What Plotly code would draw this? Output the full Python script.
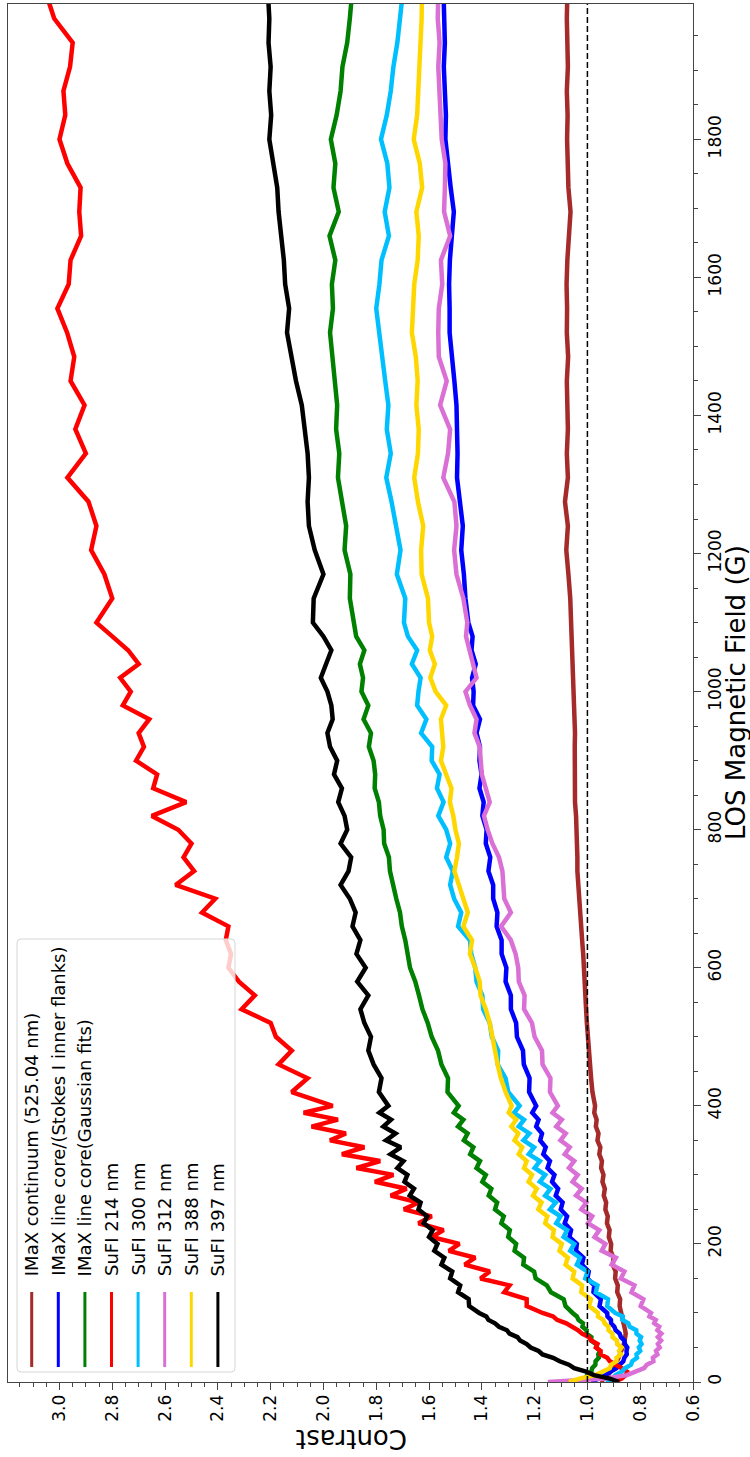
import plotly.graph_objects as go

# LOS magnetic field sampling (G)
field_G = [
    0, 5, 10, 15, 20, 25, 30, 35, 40, 45, 50, 55, 60, 65, 70, 75, 80, 85, 90, 95, 100,
    110, 120, 130, 140, 150, 160, 170, 180, 190, 200, 210, 220, 230, 240, 250, 260, 270, 280, 290, 300,
    310, 320, 330, 340, 350, 360, 370, 380, 390, 400,
    420, 440, 460, 480, 500, 520, 540, 560, 580, 600, 620, 640, 660, 680, 700, 720, 740, 760, 780, 800,
    820, 840, 860, 880, 900, 920, 940, 960, 980, 1000, 1020, 1040, 1060, 1080, 1100,
    1135, 1170, 1205, 1240, 1275, 1310, 1345, 1380, 1415, 1450, 1485, 1520, 1555, 1590, 1625, 1660,
    1695, 1730, 1765, 1800, 1835, 1870, 1905, 1940, 1975, 2010,
]

imax_continuum = [
    0.950, 0.935, 0.922, 0.912, 0.903, 0.896, 0.889, 0.882, 0.876, 0.870, 0.866, 0.862, 0.859, 0.856, 0.855, 0.857, 0.860, 0.862, 0.866, 0.868, 0.871,
    0.878, 0.876, 0.887, 0.885, 0.895, 0.893, 0.904, 0.901, 0.912, 0.910, 0.919, 0.916, 0.926, 0.923, 0.932, 0.929, 0.938, 0.934, 0.943, 0.939,
    0.948, 0.945, 0.955, 0.951, 0.962, 0.958, 0.968, 0.965, 0.974, 0.971,
    0.981, 0.986, 0.991, 0.996, 0.999, 1.002, 1.005, 1.007, 1.010, 1.013, 1.016, 1.020, 1.024, 1.027, 1.030, 1.034, 1.038, 1.038, 1.039, 1.040,
    1.043, 1.047, 1.048, 1.048, 1.047, 1.048, 1.047, 1.049, 1.050, 1.052, 1.055, 1.056, 1.055, 1.057, 1.059,
    1.065, 1.072, 1.080, 1.074, 1.085, 1.074, 1.078, 1.074, 1.077, 1.078, 1.073, 1.078, 1.077, 1.079, 1.076, 1.068,
    1.064, 1.072, 1.075, 1.077, 1.075, 1.078, 1.074, 1.077, 1.078, 1.076,
]

imax_core_flanks = [
    0.985, 0.955, 0.930, 0.912, 0.890, 0.878, 0.864, 0.860, 0.851, 0.852, 0.849, 0.858, 0.860, 0.873, 0.878, 0.893, 0.898, 0.910, 0.911, 0.924, 0.925,
    0.954, 0.949, 0.977, 0.974, 1.000, 0.995, 1.021, 1.015, 1.043, 1.040, 1.068, 1.062, 1.086, 1.077, 1.101, 1.094, 1.120, 1.111, 1.134, 1.125,
    1.151, 1.142, 1.167, 1.158, 1.179, 1.172, 1.194, 1.185, 1.209, 1.194,
    1.221, 1.219, 1.241, 1.244, 1.267, 1.270, 1.290, 1.290, 1.310, 1.307, 1.325, 1.325, 1.344, 1.341, 1.357, 1.357, 1.375, 1.368, 1.385, 1.382,
    1.398, 1.393, 1.409, 1.401, 1.409, 1.407, 1.420, 1.407, 1.433, 1.431, 1.437, 1.423, 1.439, 1.435, 1.451,
    1.462, 1.468, 1.478, 1.472, 1.484, 1.494, 1.492, 1.494, 1.496, 1.504, 1.512, 1.522, 1.522, 1.524, 1.521, 1.512,
    1.506, 1.518, 1.526, 1.538, 1.536, 1.540, 1.544, 1.540, 1.543, 1.545,
]

imax_core_gauss = [
    1.030, 1.010, 1.000, 0.985, 0.982, 0.970, 0.969, 0.957, 0.959, 0.953, 0.966, 0.967, 0.986, 0.985, 1.004, 1.003, 1.019, 1.017, 1.034, 1.040, 1.056,
    1.083, 1.090, 1.138, 1.154, 1.196, 1.202, 1.243, 1.240, 1.276, 1.270, 1.300, 1.294, 1.326, 1.317, 1.350, 1.342, 1.374, 1.364, 1.398, 1.385,
    1.420, 1.407, 1.444, 1.432, 1.468, 1.454, 1.490, 1.470, 1.506, 1.488,
    1.530, 1.528, 1.553, 1.566, 1.590, 1.605, 1.625, 1.638, 1.652, 1.672, 1.680, 1.690, 1.703, 1.710, 1.724, 1.735, 1.748, 1.752, 1.770, 1.772,
    1.785, 1.790, 1.806, 1.804, 1.810, 1.828, 1.820, 1.848, 1.830, 1.856, 1.850, 1.862, 1.845, 1.876, 1.885,
    1.900, 1.898, 1.920, 1.914, 1.930, 1.945, 1.940, 1.952, 1.948, 1.957, 1.962, 1.975, 1.964, 1.968, 1.955, 1.977,
    1.942, 1.962, 1.955, 1.972, 1.950, 1.935, 1.928, 1.910, 1.900, 1.892,
]

sufi_214 = [
    0.900, 0.870, 0.855, 0.850, 0.870, 0.890, 0.915, 0.925, 0.950, 0.950, 0.968, 0.962, 0.985, 0.995, 1.020, 1.035, 1.060, 1.080, 1.115, 1.130, 1.170,
    1.230, 1.230, 1.315, 1.295, 1.405, 1.370, 1.465, 1.425, 1.525, 1.485, 1.590, 1.545, 1.640, 1.590, 1.695, 1.640, 1.745, 1.685, 1.805, 1.735,
    1.875, 1.785, 1.930, 1.845, 1.975, 1.915, 2.045, 1.945, 2.075, 1.965,
    2.120, 2.060, 2.170, 2.120, 2.180, 2.200, 2.310, 2.260, 2.320, 2.360, 2.350, 2.370, 2.360, 2.460, 2.410, 2.560, 2.490, 2.530, 2.500, 2.550,
    2.650, 2.520, 2.645, 2.630, 2.710, 2.680, 2.700, 2.660, 2.760, 2.730, 2.770, 2.700, 2.740, 2.800, 2.860,
    2.800, 2.830, 2.880, 2.860, 2.890, 2.970, 2.900, 2.940, 2.905, 2.958, 2.944, 2.971, 3.008, 2.965, 2.958, 2.918,
    2.925, 2.920, 2.970, 3.000, 2.978, 2.985, 2.960, 2.950, 3.020, 3.050,
]

sufi_300 = [
    0.930, 0.905, 0.893, 0.870, 0.858, 0.835, 0.830, 0.812, 0.814, 0.800, 0.805, 0.795, 0.802, 0.797, 0.814, 0.815, 0.840, 0.845, 0.867, 0.866, 0.895,
    0.925, 0.922, 0.968, 0.962, 1.008, 1.000, 1.040, 1.028, 1.065, 1.050, 1.090, 1.077, 1.118, 1.102, 1.142, 1.120, 1.160, 1.140, 1.180, 1.160,
    1.200, 1.180, 1.222, 1.202, 1.242, 1.220, 1.260, 1.240, 1.278, 1.257,
    1.300, 1.310, 1.340, 1.338, 1.362, 1.370, 1.395, 1.398, 1.420, 1.425, 1.440, 1.445, 1.490, 1.478, 1.505, 1.520, 1.510, 1.535, 1.520, 1.535,
    1.565, 1.545, 1.570, 1.560, 1.590, 1.588, 1.630, 1.610, 1.645, 1.640, 1.632, 1.665, 1.645, 1.680, 1.695,
    1.690, 1.722, 1.708, 1.724, 1.742, 1.762, 1.745, 1.760, 1.754, 1.766, 1.778, 1.790, 1.800, 1.788, 1.780, 1.752,
    1.768, 1.750, 1.758, 1.782, 1.760, 1.745, 1.735, 1.720, 1.710, 1.700,
]

sufi_312 = [
    1.150, 0.930, 0.850, 0.815, 0.785, 0.775, 0.750, 0.752, 0.735, 0.740, 0.726, 0.733, 0.721, 0.733, 0.720, 0.735, 0.728, 0.747, 0.741, 0.765, 0.759,
    0.798, 0.788, 0.833, 0.822, 0.873, 0.860, 0.908, 0.892, 0.946, 0.932, 0.973, 0.955, 0.998, 0.982, 1.023, 1.004, 1.043, 1.022, 1.056, 1.037,
    1.070, 1.050, 1.086, 1.067, 1.102, 1.082, 1.118, 1.097, 1.132, 1.112,
    1.142, 1.140, 1.170, 1.172, 1.200, 1.210, 1.240, 1.238, 1.260, 1.262, 1.272, 1.290, 1.327, 1.290, 1.315, 1.320, 1.322, 1.335, 1.360, 1.378,
    1.392, 1.370, 1.386, 1.400, 1.404, 1.408, 1.428, 1.420, 1.445, 1.462, 1.420, 1.432, 1.445, 1.460, 1.455,
    1.470, 1.496, 1.505, 1.496, 1.504, 1.546, 1.528, 1.520, 1.558, 1.533, 1.563, 1.565, 1.563, 1.550, 1.555, 1.520,
    1.543, 1.540, 1.538, 1.552, 1.555, 1.560, 1.565, 1.560, 1.567, 1.565,
]

sufi_388 = [
    1.070, 1.030, 0.970, 0.945, 0.915, 0.910, 0.890, 0.890, 0.873, 0.880, 0.871, 0.887, 0.888, 0.905, 0.905, 0.920, 0.920, 0.935, 0.940, 0.960, 0.960,
    0.993, 0.987, 1.023, 1.020, 1.056, 1.050, 1.083, 1.074, 1.106, 1.097, 1.132, 1.127, 1.160, 1.152, 1.186, 1.174, 1.206, 1.192, 1.223, 1.210,
    1.240, 1.230, 1.260, 1.247, 1.276, 1.262, 1.288, 1.270, 1.298, 1.287,
    1.310, 1.328, 1.340, 1.348, 1.360, 1.370, 1.385, 1.405, 1.408, 1.425, 1.445, 1.437, 1.470, 1.453, 1.470, 1.490, 1.504, 1.494, 1.487, 1.500,
    1.508, 1.521, 1.515, 1.535, 1.555, 1.546, 1.550, 1.555, 1.535, 1.575, 1.595, 1.578, 1.597, 1.588, 1.600,
    1.604, 1.628, 1.630, 1.622, 1.642, 1.656, 1.642, 1.639, 1.648, 1.643, 1.650, 1.665, 1.660, 1.656, 1.643, 1.639,
    1.648, 1.626, 1.635, 1.658, 1.645, 1.640, 1.635, 1.630, 1.628, 1.627,
]

sufi_397 = [
    0.880, 0.915, 0.975, 1.005, 1.050, 1.070, 1.105, 1.130, 1.170, 1.185, 1.215, 1.230, 1.255, 1.265, 1.295, 1.305, 1.335, 1.350, 1.375, 1.383, 1.410,
    1.448, 1.450, 1.490, 1.482, 1.520, 1.512, 1.553, 1.542, 1.580, 1.568, 1.600, 1.586, 1.620, 1.607, 1.640, 1.632, 1.673, 1.657, 1.693, 1.682,
    1.720, 1.697, 1.746, 1.707, 1.763, 1.727, 1.773, 1.744, 1.788, 1.754,
    1.790, 1.780, 1.810, 1.830, 1.820, 1.845, 1.860, 1.830, 1.872, 1.840, 1.875, 1.860, 1.890, 1.878, 1.900, 1.935, 1.905, 1.895, 1.935, 1.910,
    1.920, 1.944, 1.930, 1.960, 1.948, 1.975, 1.985, 1.965, 1.970, 1.985, 2.010, 1.990, 1.970, 2.000, 2.040,
    2.037, 2.000, 2.033, 2.055, 2.060, 2.055, 2.060, 2.070, 2.082, 2.104, 2.120, 2.138, 2.130, 2.145, 2.150, 2.160,
    2.170, 2.175, 2.190, 2.205, 2.198, 2.205, 2.200, 2.208, 2.205, 2.210,
]

series_names = [
    "IMaX continuum (525.04 nm)",
    "IMaX line core/(Stokes I inner flanks)",
    "IMaX line core(Gaussian fits)",
    "SuFI 214 nm",
    "SuFI 300 nm",
    "SuFI 312 nm",
    "SuFI 388 nm",
    "SuFI 397 nm",
]
series_values = [imax_continuum, imax_core_flanks, imax_core_gauss, sufi_214,
                 sufi_300, sufi_312, sufi_388, sufi_397]
series_colors = ["#a52a2a", "#0000ff", "#008000", "#ff0000",
                 "#00bfff", "#da70d6", "#ffd700", "#000000"]

FONT = "DejaVu Sans"
AXIS_COLOR = "#444444"

# Page geometry (pixels) of the plotting area
W, H = 750, 1457
X0, X1 = 8, 693        # left / right edge of the axes box
Y0, Y1 = 4, 1382       # top / bottom edge of the axes box


def px_x(px):
    return (px - X0) / (X1 - X0)


def px_y(py):
    return (Y1 - py) / (Y1 - Y0)


fig = go.Figure()

# Contrast runs along the horizontal axis (reversed), field along the vertical one
for name, vals, color in zip(series_names, series_values, series_colors):
    fig.add_trace(go.Scatter(
        x=vals, y=field_G, mode="lines", name=name,
        line=dict(color=color, width=4.5),
        showlegend=False, hoverinfo="skip",
    ))

shapes = []

# Reference level at unit contrast
shapes.append(dict(
    type="line", xref="x", yref="paper", x0=1.0, x1=1.0, y0=0, y1=1,
    line=dict(color="black", width=1.5, dash="6px,3px"), layer="above",
))

# Legend frame (semi-transparent, rounded corners)
lx0, lx1, ly0, ly1, r = 17, 235, 939, 1372, 4
rx = r / (X1 - X0)
ry = r / (Y1 - Y0)
a, b, c, d = px_x(lx0), px_x(lx1), px_y(ly0), px_y(ly1)
path = (
    f"M {a + rx} {c} L {b - rx} {c} Q {b} {c} {b} {c - ry} "
    f"L {b} {d + ry} Q {b} {d} {b - rx} {d} "
    f"L {a + rx} {d} Q {a} {d} {a} {d + ry} "
    f"L {a} {c - ry} Q {a} {c} {a + rx} {c} Z"
)
shapes.append(dict(
    type="path", xref="paper", yref="paper", path=path,
    fillcolor="rgba(255,255,255,0.8)", line=dict(color="#d6d6d6", width=1),
    layer="above",
))

annotations = []
col0, col_step = 31.7, 26.6
for i, (name, color) in enumerate(zip(series_names, series_colors)):
    cx = col0 + col_step * i
    shapes.append(dict(
        type="line", xref="paper", yref="paper",
        x0=px_x(cx), x1=px_x(cx), y0=px_y(1292), y1=px_y(1367),
        line=dict(color=color, width=3), layer="above",
    ))
    annotations.append(dict(
        xref="paper", yref="paper", x=px_x(cx), y=px_y(1278),
        text=name, showarrow=False, textangle=-90,
        xanchor="center", yanchor="bottom",
        font=dict(family=FONT, size=18, color="black"),
    ))

# Axis titles
annotations.append(dict(
    xref="paper", yref="paper", x=px_x(736), y=0.5,
    text="LOS Magnetic Field (G)", showarrow=False, textangle=-90,
    xanchor="center", yanchor="middle",
    font=dict(family=FONT, size=26, color="black"),
))
annotations.append(dict(
    xref="paper", yref="paper", x=px_x(352), y=px_y(1439),
    text="Contrast", showarrow=False, textangle=180,
    xanchor="center", yanchor="middle",
    font=dict(family=FONT, size=26, color="black"),
))

fig.update_layout(
    width=W, height=H,
    margin=dict(l=X0, r=W - X1, t=Y0, b=H - Y1, pad=0, autoexpand=False),
    paper_bgcolor="white", plot_bgcolor="white",
    showlegend=False,
    shapes=shapes, annotations=annotations,
    xaxis=dict(
        range=[3.195, 0.6], tickmode="linear", tick0=0.6, dtick=0.2,
        tickformat=".1f", tickangle=-90, ticklabelstandoff=-2,
        ticks="outside", ticklen=7, tickwidth=1, tickcolor=AXIS_COLOR,
        minor=dict(tick0=0.6, dtick=0.05, ticks="outside", ticklen=4,
                   tickwidth=1, tickcolor=AXIS_COLOR, showgrid=False),
        showline=True, linecolor=AXIS_COLOR, linewidth=1, mirror=True,
        showgrid=False, zeroline=False, automargin=False,
        tickfont=dict(family=FONT, size=17, color="black"),
    ),
    yaxis=dict(
        range=[0, 1996], side="right", tickmode="linear", tick0=0, dtick=200,
        tickangle=-90,
        ticks="outside", ticklen=7, tickwidth=1, tickcolor=AXIS_COLOR,
        minor=dict(tick0=0, dtick=50, ticks="outside", ticklen=4,
                   tickwidth=1, tickcolor=AXIS_COLOR, showgrid=False),
        showline=True, linecolor=AXIS_COLOR, linewidth=1, mirror=True,
        showgrid=False, zeroline=False, automargin=False,
        tickfont=dict(family=FONT, size=17, color="black"),
    ),
)

fig.write_html("out.html")
